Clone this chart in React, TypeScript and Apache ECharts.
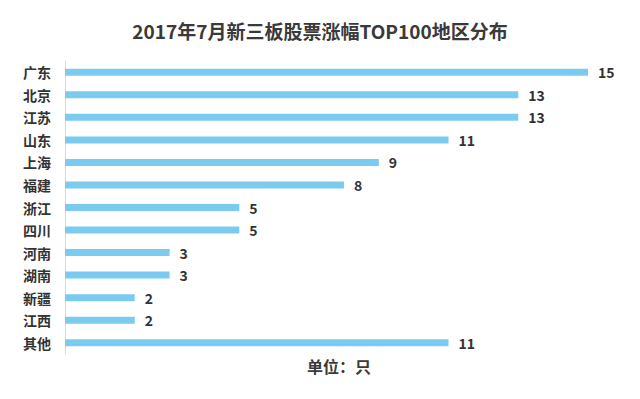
import React, { useEffect, useRef } from "react";
import * as echarts from "echarts";

const categories = ["广东", "北京", "江苏", "山东", "上海", "福建", "浙江", "四川", "河南", "湖南", "新疆", "江西", "其他"];
const values = [15, 13, 13, 11, 9, 8, 5, 5, 3, 3, 2, 2, 11];
const titleText = "2017年7月新三板股票涨幅TOP100地区分布";
const unitText = "单位：只";

const FONT = "'Noto Sans CJK SC', 'Noto Sans', sans-serif";

export default function App() {
  const ref = useRef<HTMLDivElement>(null);
  useEffect(() => {
    document.body.style.margin = "0";
    if (!ref.current) return;
    const chart = echarts.init(ref.current, null, { renderer: "svg" });
    chart.setOption({
      animation: false,
      backgroundColor: "#ffffff",
      title: {
        text: titleText,
        left: "center",
        top: 16,
        textStyle: { fontFamily: FONT, fontSize: 19, fontWeight: "bold", color: "#3a3a3a" },
      },
      graphic: [
        {
          type: "text", left: 307, top: 358, z: 10,
          style: { text: unitText, fill: "#3a3a3a", font: `bold 16px ${FONT}` },
        },
      ],
      grid: { left: 65, right: 52, top: 61, bottom: 45, containLabel: false },
      xAxis: {
        type: "value", min: 0, max: 15, show: false,
      },
      yAxis: {
        type: "category",
        data: categories,
        inverse: true,
        axisLine: { show: true, lineStyle: { color: "#d9d9d9", width: 1 } },
        axisTick: { show: false },
        axisLabel: { fontFamily: FONT, fontSize: 14, fontWeight: "bold", color: "#333333", margin: 14 },
      },
      series: [
        {
          type: "bar",
          data: values,
          barWidth: 7,
          itemStyle: { color: "#7acbef" },
          label: {
            show: true, position: "right", distance: 10,
            fontFamily: FONT, fontSize: 14, fontWeight: "bold", color: "#333333",
          },
        },
      ],
    });
    return () => chart.dispose();
  }, []);
  return <div ref={ref} style={{ width: 640, height: 399 }} />;
}
